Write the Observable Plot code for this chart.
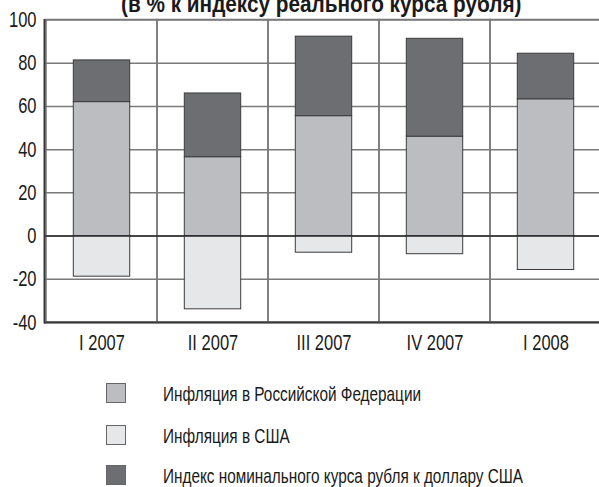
<!DOCTYPE html>
<html><head><meta charset="utf-8">
<script src="https://cdn.jsdelivr.net/npm/d3@7"></script>
<script src="https://cdn.jsdelivr.net/npm/@observablehq/plot@0.6"></script>
<style>
body{margin:0;background:#fff;width:599px;height:487px;overflow:hidden;position:relative;font-family:"Liberation Sans",Arial,sans-serif;color:#1a1a1a;}
#title{position:absolute;left:121px;top:-8px;font-weight:bold;font-size:24px;white-space:nowrap;line-height:24px;transform:scaleX(0.865);transform-origin:0 0;}
#chart{position:absolute;left:0;top:0}
.row{position:absolute;left:106px;height:20px;display:flex;align-items:center;white-space:nowrap}
.sw{width:20px;height:20px;border:1px solid #666;box-sizing:border-box;margin-right:37px;flex:none}
.lt{font-size:21px;display:inline-block;transform:scaleX(0.73);transform-origin:0 50%;position:relative;top:1px}
</style></head>
<body>
<div id="title">(в % к индексу реального курса рубля)</div>
<div id="chart"></div>
<div id="legend"></div>
<script>
const categories = ["I 2007", "II 2007", "III 2007", "IV 2007", "I 2008"];
const seriesNames = ["Инфляция в Российской Федерации", "Инфляция в США", "Индекс номинального курса рубля к доллару США"];
const seriesColors = ["#bcbdc0", "#e6e7e8", "#6d6e71"];
const inflRussia = [62, 36.5, 55.5, 46, 63.3];
const inflUSA = [-18.8, -33.9, -7.7, -8.4, -15.7];
const nominalIndex = [19.3, 29.5, 36.8, 45.3, 21.1];
const yTicks = [-40, -20, 0, 20, 40, 60, 80, 100];

const data = [];
categories.forEach((c, i) => {
  data.push({cat: c, series: seriesNames[0], value: inflRussia[i]});
  data.push({cat: c, series: seriesNames[1], value: inflUSA[i]});
  data.push({cat: c, series: seriesNames[2], value: nominalIndex[i]});
});

const chart = Plot.plot({
  width: 599, height: 360,
  marginLeft: 44, marginRight: 0, marginTop: 19.5, marginBottom: 38,
  style: {fontFamily: '"Liberation Sans",Arial,sans-serif', color: "#1a1a1a", background: "transparent"},
  x: {domain: categories, range: [44, 602.5], padding: 0},
  y: {domain: [-40, 100], range: [322, 19.5]},
  color: {domain: seriesNames, range: seriesColors},
  marks: [
    Plot.barY(categories, {x: d => d, y1: -40, y2: 100, fill: "none", stroke: "#7a7a7a", strokeWidth: 1.5, inset: 0}),
    Plot.ruleY(yTicks, {stroke: "#7a7a7a", strokeWidth: 1.5}),
    Plot.barY(data, {x: "cat", y: "value", fill: "series", stroke: "#3c3c3c", strokeWidth: 1, insetLeft: 27.3, insetRight: 27.3, order: seriesNames}),
    Plot.ruleY([0], {stroke: "#2a2a2a", strokeWidth: 1.5}),
    Plot.ruleY([-40], {stroke: "#3a3a3a", strokeWidth: 2}),
    Plot.frame({anchor: "left", stroke: "#3a3a3a", strokeWidth: 2}),
    Plot.axisY(yTicks, {tickSize: 0, tickPadding: 8, fontSize: 22, tickFormat: d => String(d), label: null}),
    Plot.axisX({tickSize: 0, tickPadding: 12, fontSize: 22, label: null})
  ]
});
// condense tick label glyphs horizontally about their anchor point
chart.querySelectorAll("text").forEach(t => {
  let tr = t.getAttribute("transform");
  if (!tr) {
    const x = t.getAttribute("x") || 0, y = t.getAttribute("y") || 0;
    t.removeAttribute("x"); t.removeAttribute("y");
    tr = `translate(${x},${y})`;
  }
  t.setAttribute("transform", tr + " scale(0.75,1)");
});
document.getElementById("chart").append(chart);

const legend = document.getElementById("legend");
const rowTops = [383, 425, 465];
seriesNames.forEach((s, i) => {
  const row = document.createElement("div");
  row.className = "row";
  row.style.top = rowTops[i] + "px";
  const sw = document.createElement("div");
  sw.className = "sw";
  sw.style.background = seriesColors[i];
  const t = document.createElement("span");
  t.className = "lt";
  t.textContent = s;
  row.append(sw, t);
  legend.append(row);
});
</script>
</body></html>
